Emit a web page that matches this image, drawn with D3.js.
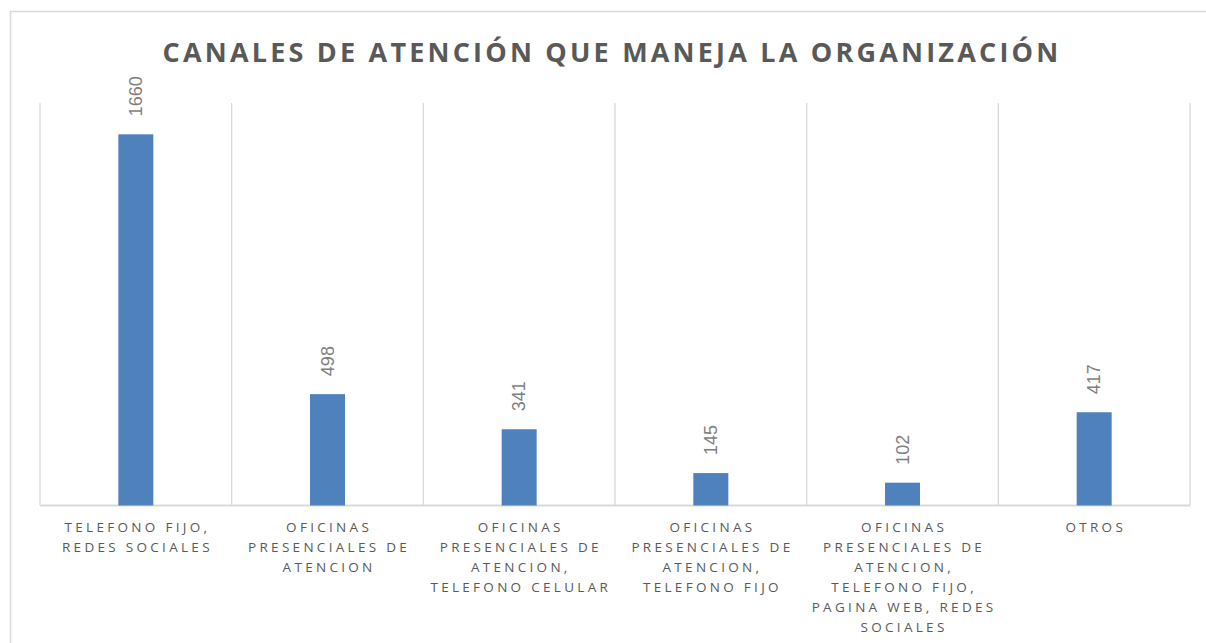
<!DOCTYPE html>
<html>
<head>
<meta charset="utf-8">
<script src="https://cdn.jsdelivr.net/npm/d3@7"></script>
<style>
  body { margin: 0; background: #fff; }
  svg { display: block; font-family: "Open Sans", "Liberation Sans", sans-serif; }
</style>
</head>
<body>
<svg id="chart" width="1206" height="643"></svg>
<script>
var chartTitle = "CANALES DE ATENCIÓN QUE MANEJA LA ORGANIZACIÓN"
var categories = [
  ["TELEFONO FIJO,", "REDES SOCIALES"],
  ["OFICINAS", "PRESENCIALES DE", "ATENCION"],
  ["OFICINAS", "PRESENCIALES DE", "ATENCION,", "TELEFONO CELULAR"],
  ["OFICINAS", "PRESENCIALES DE", "ATENCION,", "TELEFONO FIJO"],
  ["OFICINAS", "PRESENCIALES DE", "ATENCION,", "TELEFONO FIJO,", "PAGINA WEB, REDES", "SOCIALES"],
  ["OTROS"]
]
var values = [1660, 498, 341, 145, 102, 417]
var yMax = 1800

var svg = d3.select("#chart")
var plot = { left: 40, right: 1190, top: 103, bottom: 505.5 }

// outer chart border
svg.append("rect")
  .attr("x", 10.5).attr("y", 11.5)
  .attr("width", 1250).attr("height", 700)
  .attr("fill", "none")
  .attr("stroke", "#d9d9d9")
  .attr("stroke-width", 1.5)

svg.append("text")
  .attr("x", 612).attr("y", 62)
  .attr("text-anchor", "middle")
  .attr("fill", "#595959")
  .attr("font-size", 27)
  .attr("font-weight", "bold")
  .attr("letter-spacing", 3.2)
  .text(chartTitle)

var idx = d3.range(values.length)
var xScale = d3.scaleBand().domain(idx).range([plot.left, plot.right]).paddingInner(0).paddingOuter(0)
var yScale = d3.scaleLinear().domain([0, yMax]).range([plot.bottom, plot.top])

// vertical gridlines at category boundaries
var bounds = idx.map(function (i) { return xScale(i) }).concat([plot.right])
svg.append("g")
  .selectAll("line")
  .data(bounds)
  .enter()
  .append("line")
  .attr("x1", function (d) { return d }).attr("x2", function (d) { return d })
  .attr("y1", plot.top).attr("y2", plot.bottom)
  .attr("stroke", "#d9d9d9")
  .attr("stroke-width", 1.3)

// baseline
svg.append("line")
  .attr("x1", plot.left).attr("x2", plot.right)
  .attr("y1", plot.bottom).attr("y2", plot.bottom)
  .attr("stroke", "#d9d9d9")
  .attr("stroke-width", 2)

var barWidth = 35
svg.append("g")
  .selectAll("rect")
  .data(values)
  .enter()
  .append("rect")
  .attr("x", function (d, i) { return xScale(i) + xScale.bandwidth() / 2 - barWidth / 2 })
  .attr("y", function (d) { return yScale(d) })
  .attr("width", barWidth)
  .attr("height", function (d) { return plot.bottom - yScale(d) })
  .attr("fill", "#4f81bd")

// value labels, rotated
svg.append("g")
  .selectAll("text")
  .data(values)
  .enter()
  .append("text")
  .attr("transform", function (d, i) {
    var cx = xScale(i) + xScale.bandwidth() / 2
    return "translate(" + (cx + 6) + "," + (yScale(d) - 18) + ") rotate(-90)"
  })
  .attr("fill", "#7f7f7f")
  .attr("font-size", 18)
  .attr("font-family", "Liberation Sans Narrow, Liberation Sans, sans-serif")
  .text(function (d) { return d })

// category labels
var catG = svg.append("g")
categories.forEach(function (lines, i) {
  var cx = xScale(i) + xScale.bandwidth() / 2
  var t = catG.append("text")
    .attr("text-anchor", "middle")
    .attr("fill", "#595959")
    .attr("font-size", 13.5)
    .attr("letter-spacing", 3.3)
  lines.forEach(function (ln, j) {
    t.append("tspan")
      .attr("x", cx + 1.6)
      .attr("y", 532 + j * 20)
      .text(ln)
  })
})
</script>
</body>
</html>
